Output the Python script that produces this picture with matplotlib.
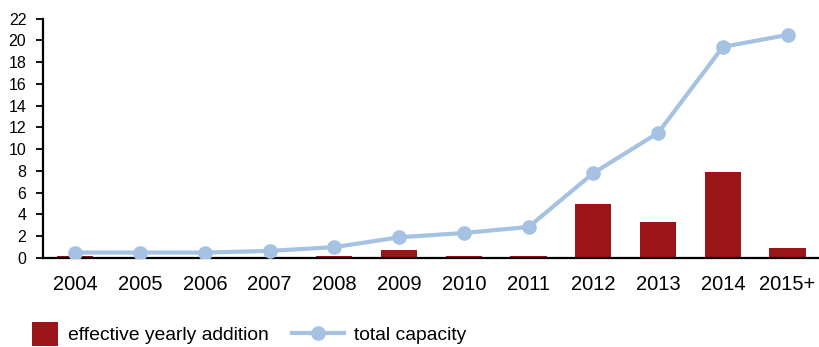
import numpy as np
import matplotlib.pyplot as plt
import matplotlib.patches as mpatches
from matplotlib.container import BarContainer
from matplotlib.legend_handler import HandlerPatch

plt.rcParams['font.family'] = ['Liberation Sans', 'DejaVu Sans']

years = ['2004', '2005', '2006', '2007', '2008', '2009', '2010', '2011',
         '2012', '2013', '2014', '2015+']
yearly_addition = [0.2, 0.0, 0.0, 0.0, 0.2, 0.75, 0.2, 0.2, 4.95, 3.3, 7.9, 0.9]
total_capacity = [0.5, 0.5, 0.5, 0.65, 1.0, 1.9, 2.3, 2.85, 7.8, 11.5, 19.4, 20.5]


# square swatch at the right end of the handle box
def square_patch(legend, orig_handle, xdescent, ydescent, width, height, fontsize):
    w = 18.7
    return mpatches.Rectangle((width - w - xdescent, -ydescent - 2), w, height + 4)


def first_child(legend_handle, orig_handle):
    legend_handle.update_from(orig_handle.patches[0])


fig = plt.figure(figsize=(8.2, 3.47), dpi=100)
ax = fig.add_axes([0.0524, 0.2565, 0.9476, 0.69])

x = np.arange(len(years))
bars = ax.bar(x, yearly_addition, width=0.56, color='#9B1519', zorder=2,
              label='effective yearly addition')
line, = ax.plot(x, total_capacity, color='#A5C2E2', lw=3, marker='o', ms=9.5,
                zorder=3, label='total capacity')

ax.set_xlim(-0.5, 11.5)
ax.set_ylim(0, 22)
ax.set_yticks(range(0, 23, 2))
ax.set_xticks(x)
ax.set_xticklabels(years, fontsize=14.5)
ax.tick_params(axis='y', labelsize=11.5, length=5, width=1.3, direction='out', pad=7)
ax.tick_params(axis='x', length=0, pad=12)
for s in ['top', 'right']:
    ax.spines[s].set_visible(False)
ax.spines['left'].set_linewidth(1.6)
ax.spines['bottom'].set_linewidth(1.6)

fig.legend([bars, line], ['effective yearly addition', 'total capacity'],
           loc='center left', bbox_to_anchor=(0.0073, 0.036), ncol=2, frameon=False,
           fontsize=13.85, handlelength=2.72, handleheight=1.1, columnspacing=1.2,
           handletextpad=0.52, borderpad=0, borderaxespad=0, numpoints=1,
           handler_map={BarContainer: HandlerPatch(patch_func=square_patch,
                                                   update_func=first_child)})

fig.savefig('out.png', dpi=100)
